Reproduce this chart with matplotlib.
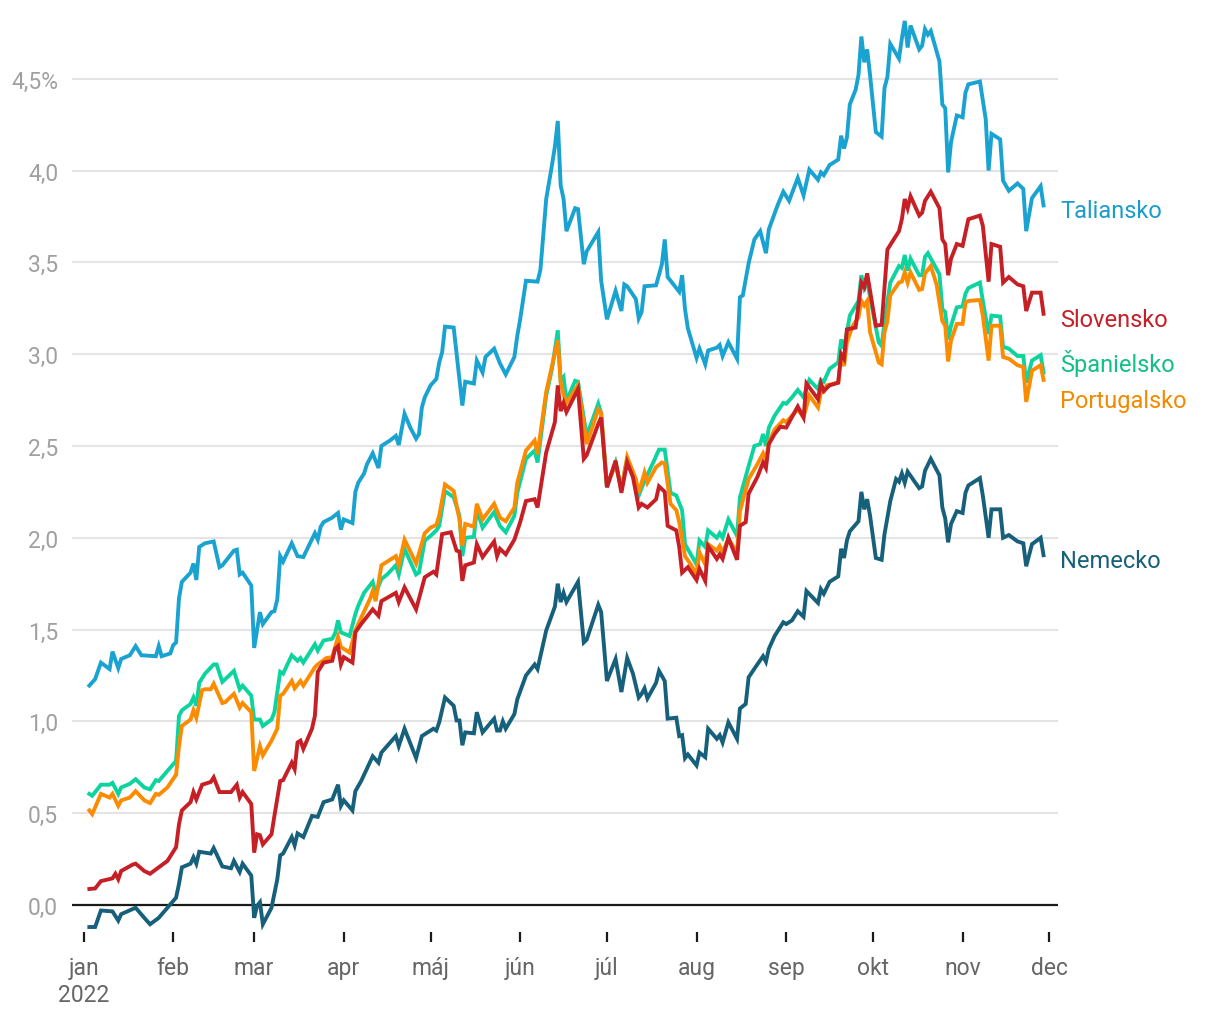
import matplotlib
matplotlib.use('Agg')
import matplotlib.pyplot as plt
import matplotlib.transforms as mtransforms
import pandas as pd

plt.rcParams['font.family'] = ['Roboto', 'DejaVu Sans']

# dni od 1. 1. 2022 a výnosy 10-ročných dlhopisov (%)
it_days = [2, 4, 6, 9, 10, 12, 13, 16, 18, 20, 25, 26, 27, 30, 31, 32, 33, 34, 37, 38,
           39, 40, 42, 45, 47, 48, 52, 53, 54, 55, 58, 59, 61, 62, 65, 66, 67, 68, 69, 72,
           74, 76, 80, 81, 82, 83, 86, 88, 89, 90, 93, 94, 95, 97, 98, 100, 102, 103, 106, 108,
           109, 111, 113, 115, 116, 117, 118, 120, 122, 123, 124, 125, 128, 131, 132, 135, 136, 138, 139, 142,
           144, 146, 149, 150, 151, 153, 157, 158, 160, 162, 163, 164, 165, 166, 167, 170, 171, 173, 174, 178,
           179, 181, 184, 186, 187, 188, 191, 192, 193, 194, 198, 200, 201, 202, 204, 206, 207, 208, 209, 212,
           213, 215, 216, 219, 220, 221, 223, 226, 227, 228, 230, 232, 234, 236, 237, 240, 242, 244, 247, 249,
           251, 254, 255, 256, 258, 261, 262, 263, 264, 265, 267, 268, 269, 270, 271, 272, 274, 276, 277, 278,
           279, 282, 283, 284, 285, 286, 289, 290, 291, 292, 293, 296, 297, 298, 299, 300, 302, 304, 305, 306,
           310, 312, 313, 314, 317, 318, 320, 323, 325, 326, 328, 331, 332]
it_vals = [1.195, 1.23, 1.32, 1.285, 1.38, 1.29, 1.34, 1.36, 1.41, 1.36,
           1.355, 1.41, 1.355, 1.37, 1.415, 1.43, 1.67, 1.76, 1.81, 1.86,
           1.77, 1.95, 1.97, 1.98, 1.84, 1.85, 1.93, 1.935, 1.80, 1.81,
           1.74, 1.40, 1.595, 1.53, 1.595, 1.60, 1.665, 1.90, 1.87, 1.97,
           1.90, 1.895, 2.025, 1.99, 2.06, 2.085, 2.11, 2.135, 2.045, 2.10,
           2.08, 2.25, 2.30, 2.35, 2.40, 2.46, 2.38, 2.50, 2.53, 2.555,
           2.505, 2.675, 2.60, 2.54, 2.565, 2.71, 2.765, 2.83, 2.865, 2.955,
           3.01, 3.15, 3.145, 2.72, 2.85, 2.84, 2.965, 2.90, 2.985, 3.03,
           2.95, 2.89, 2.985, 3.10, 3.19, 3.40, 3.395, 3.46, 3.845, 4.03,
           4.13, 4.27, 3.92, 3.845, 3.67, 3.795, 3.79, 3.49, 3.56, 3.665,
           3.40, 3.19, 3.345, 3.235, 3.38, 3.37, 3.30, 3.195, 3.23, 3.37,
           3.375, 3.49, 3.625, 3.42, 3.38, 3.34, 3.43, 3.245, 3.14, 2.98,
           3.03, 2.945, 3.02, 3.035, 3.05, 2.99, 3.065, 2.975, 3.31, 3.32,
           3.495, 3.625, 3.67, 3.55, 3.68, 3.81, 3.885, 3.835, 3.96, 3.865,
           4.005, 3.95, 3.99, 3.975, 4.03, 4.06, 4.19, 4.12, 4.18, 4.36,
           4.44, 4.52, 4.73, 4.59, 4.66, 4.52, 4.21, 4.185, 4.45, 4.51,
           4.69, 4.61, 4.72, 4.815, 4.67, 4.79, 4.66, 4.68, 4.77, 4.74,
           4.76, 4.595, 4.36, 4.34, 3.99, 4.155, 4.30, 4.29, 4.425, 4.47,
           4.485, 4.28, 4.00, 4.20, 4.17, 3.945, 3.89, 3.93, 3.90, 3.67,
           3.85, 3.915, 3.81]

es_days = [2, 3, 6, 9, 10, 12, 13, 16, 18, 21, 23, 25, 26, 29, 32, 33, 34, 37, 38, 39,
           40, 42, 45, 46, 48, 52, 54, 55, 58, 59, 61, 62, 65, 66, 68, 69, 72, 74, 75, 76,
           80, 81, 83, 86, 87, 88, 89, 92, 94, 95, 97, 100, 101, 103, 105, 108, 109, 111, 115, 116,
           118, 120, 122, 123, 125, 128, 130, 131, 132, 135, 136, 138, 142, 144, 146, 149, 150, 153, 156, 157,
           160, 162, 164, 165, 166, 167, 170, 171, 174, 178, 179, 181, 184, 186, 188, 190, 192, 194, 197, 199,
           201, 203, 205, 207, 208, 212, 213, 215, 216, 219, 220, 221, 223, 226, 227, 230, 232, 234, 235, 236,
           237, 239, 242, 243, 245, 247, 249, 251, 254, 255, 256, 258, 261, 262, 263, 265, 268, 269, 270, 271,
           275, 276, 277, 279, 282, 283, 284, 285, 286, 289, 290, 291, 292, 296, 297, 298, 299, 300, 302, 304,
           305, 306, 310, 311, 313, 314, 317, 318, 320, 323, 325, 326, 328, 331, 332]
es_vals = [0.605, 0.595, 0.655, 0.655, 0.665, 0.605, 0.64, 0.66, 0.685, 0.64,
           0.63, 0.68, 0.675, 0.73, 0.785, 1.03, 1.06, 1.095, 1.13, 1.085,
           1.21, 1.26, 1.31, 1.31, 1.215, 1.275, 1.175, 1.195, 1.14, 1.01,
           1.01, 0.975, 1.01, 1.05, 1.27, 1.26, 1.36, 1.33, 1.345, 1.32,
           1.42, 1.385, 1.44, 1.45, 1.48, 1.55, 1.485, 1.465, 1.585, 1.63,
           1.70, 1.76, 1.695, 1.775, 1.80, 1.85, 1.80, 1.94, 1.80, 1.81,
           1.985, 2.01, 2.04, 2.065, 2.255, 2.22, 2.12, 1.90, 2.00, 2.005,
           2.155, 2.055, 2.14, 2.065, 2.03, 2.12, 2.245, 2.43, 2.475, 2.41,
           2.775, 2.92, 3.13, 2.855, 2.875, 2.745, 2.855, 2.85, 2.555, 2.73,
           2.68, 2.275, 2.41, 2.265, 2.43, 2.34, 2.23, 2.31, 2.41, 2.48,
           2.48, 2.245, 2.23, 2.15, 1.965, 1.855, 1.985, 1.95, 2.04, 2.00,
           2.025, 2.00, 2.10, 2.01, 2.22, 2.39, 2.50, 2.51, 2.565, 2.50,
           2.60, 2.665, 2.735, 2.73, 2.765, 2.805, 2.765, 2.86, 2.81, 2.86,
           2.85, 2.92, 2.955, 3.08, 3.03, 3.21, 3.29, 3.43, 3.36, 3.395,
           3.065, 3.045, 3.175, 3.39, 3.48, 3.47, 3.54, 3.455, 3.52, 3.43,
           3.43, 3.53, 3.55, 3.435, 3.245, 3.23, 3.08, 3.155, 3.255, 3.26,
           3.33, 3.36, 3.39, 3.29, 3.11, 3.21, 3.205, 3.04, 3.03, 2.99,
           2.99, 2.845, 2.965, 2.995, 2.90]

pt_days = [2, 3, 6, 9, 10, 12, 13, 16, 18, 21, 23, 25, 26, 29, 32, 33, 34, 37, 38, 39,
           41, 42, 44, 45, 48, 49, 52, 54, 55, 58, 59, 61, 62, 65, 67, 68, 69, 72, 73, 75,
           76, 80, 81, 84, 86, 88, 89, 92, 94, 96, 99, 100, 101, 103, 108, 109, 111, 115, 118, 120,
           122, 123, 125, 128, 130, 131, 132, 135, 136, 138, 142, 144, 146, 149, 150, 153, 156, 157, 160, 164,
           165, 166, 167, 171, 174, 178, 179, 181, 184, 186, 188, 191, 192, 194, 195, 198, 200, 201, 203, 205,
           206, 208, 210, 212, 213, 215, 216, 219, 220, 221, 223, 226, 227, 230, 233, 235, 236, 237, 239, 242,
           243, 245, 247, 249, 251, 254, 255, 256, 257, 261, 262, 263, 264, 266, 268, 269, 270, 271, 272, 275,
           276, 277, 278, 279, 282, 283, 284, 285, 286, 289, 290, 291, 293, 295, 297, 298, 299, 300, 302, 304,
           305, 306, 310, 311, 313, 314, 317, 318, 320, 323, 325, 326, 328, 331, 332]
pt_vals = [0.515, 0.495, 0.605, 0.585, 0.605, 0.54, 0.57, 0.585, 0.62, 0.57,
           0.555, 0.605, 0.60, 0.64, 0.71, 0.865, 0.975, 1.01, 1.06, 1.02,
           1.17, 1.175, 1.175, 1.205, 1.10, 1.105, 1.15, 1.075, 1.10, 1.05,
           0.73, 0.865, 0.815, 0.895, 0.96, 1.14, 1.15, 1.22, 1.18, 1.22,
           1.195, 1.295, 1.31, 1.345, 1.35, 1.46, 1.405, 1.375, 1.495, 1.565,
           1.665, 1.71, 1.655, 1.85, 1.90, 1.85, 1.99, 1.86, 2.025, 2.055,
           2.07, 2.12, 2.29, 2.255, 2.10, 1.955, 2.075, 2.06, 2.185, 2.10,
           2.185, 2.11, 2.09, 2.165, 2.30, 2.475, 2.53, 2.455, 2.795, 3.075,
           2.845, 2.78, 2.735, 2.83, 2.51, 2.70, 2.68, 2.285, 2.40, 2.265,
           2.44, 2.32, 2.245, 2.355, 2.30, 2.385, 2.41, 2.405, 2.185, 2.15,
           2.085, 1.90, 1.855, 1.80, 1.92, 1.855, 1.965, 1.93, 1.955, 1.92,
           1.995, 1.92, 2.145, 2.32, 2.40, 2.46, 2.425, 2.52, 2.59, 2.64,
           2.63, 2.665, 2.70, 2.655, 2.775, 2.71, 2.79, 2.795, 2.83, 2.845,
           2.99, 2.935, 3.065, 3.155, 3.20, 3.29, 3.265, 3.29, 3.12, 2.955,
           2.945, 3.12, 3.18, 3.32, 3.39, 3.395, 3.445, 3.39, 3.445, 3.35,
           3.355, 3.44, 3.48, 3.38, 3.18, 3.155, 2.96, 3.075, 3.165, 3.165,
           3.28, 3.29, 3.295, 3.21, 2.965, 3.155, 3.155, 2.985, 2.975, 2.94,
           2.93, 2.74, 2.91, 2.94, 2.86]

sk_days = [2, 4, 6, 10, 11, 12, 13, 17, 18, 21, 23, 26, 29, 32, 33, 34, 37, 38, 39, 41,
           43, 44, 45, 47, 51, 53, 54, 55, 58, 59, 60, 61, 62, 65, 66, 68, 69, 72, 73, 74,
           75, 76, 79, 80, 81, 83, 86, 87, 88, 89, 90, 93, 94, 96, 100, 102, 103, 108, 109, 111,
           115, 118, 121, 122, 124, 127, 129, 130, 131, 132, 135, 136, 138, 142, 143, 144, 146, 149, 151, 153,
           156, 157, 160, 163, 164, 165, 166, 167, 171, 173, 174, 178, 179, 181, 184, 186, 188, 190, 192, 193,
           195, 198, 199, 201, 202, 205, 206, 207, 209, 212, 213, 215, 216, 219, 220, 221, 223, 226, 227, 229,
           230, 233, 235, 236, 237, 239, 241, 243, 247, 249, 250, 254, 255, 256, 258, 261, 262, 263, 264, 267,
           269, 270, 271, 274, 276, 278, 282, 283, 284, 285, 286, 289, 290, 291, 293, 296, 297, 298, 299, 300,
           302, 304, 306, 310, 311, 313, 314, 317, 318, 320, 323, 325, 326, 328, 331, 332]
sk_vals = [0.087, 0.09, 0.13, 0.145, 0.17, 0.14, 0.185, 0.22, 0.225, 0.185,
           0.17, 0.205, 0.24, 0.315, 0.44, 0.515, 0.56, 0.615, 0.575, 0.655,
           0.665, 0.67, 0.695, 0.615, 0.615, 0.655, 0.585, 0.615, 0.55, 0.285,
           0.385, 0.38, 0.33, 0.385, 0.485, 0.675, 0.68, 0.775, 0.74, 0.885,
           0.895, 0.85, 0.96, 1.03, 1.27, 1.32, 1.33, 1.395, 1.41, 1.31,
           1.35, 1.32, 1.485, 1.53, 1.61, 1.575, 1.655, 1.70, 1.65, 1.73,
           1.61, 1.785, 1.815, 1.80, 2.02, 2.03, 1.93, 1.925, 1.765, 1.85,
           1.865, 1.965, 1.895, 1.98, 1.90, 1.94, 1.91, 1.99, 2.085, 2.20,
           2.21, 2.165, 2.465, 2.63, 2.83, 2.69, 2.735, 2.685, 2.81, 2.43,
           2.45, 2.62, 2.655, 2.275, 2.42, 2.245, 2.41, 2.33, 2.165, 2.185,
           2.165, 2.21, 2.28, 2.25, 2.065, 2.04, 1.95, 1.81, 1.84, 1.77,
           1.83, 1.765, 1.955, 1.885, 1.91, 1.885, 2.00, 1.88, 2.065, 2.085,
           2.24, 2.33, 2.41, 2.38, 2.51, 2.565, 2.605, 2.60, 2.715, 2.655,
           2.84, 2.755, 2.84, 2.80, 2.83, 2.845, 3.00, 2.975, 3.135, 3.145,
           3.39, 3.365, 3.44, 3.155, 3.16, 3.57, 3.67, 3.735, 3.845, 3.795,
           3.86, 3.755, 3.77, 3.835, 3.885, 3.795, 3.625, 3.60, 3.43, 3.52,
           3.60, 3.59, 3.735, 3.755, 3.70, 3.395, 3.60, 3.585, 3.39, 3.42,
           3.38, 3.37, 3.235, 3.335, 3.335, 3.22]

de_days = [2, 4, 6, 10, 12, 13, 18, 21, 23, 26, 29, 32, 33, 34, 37, 38, 39, 40, 42, 44,
           45, 48, 51, 52, 54, 55, 58, 59, 60, 61, 62, 65, 67, 68, 69, 72, 73, 74, 76, 79,
           81, 83, 86, 88, 89, 90, 93, 94, 96, 100, 102, 103, 108, 109, 111, 115, 117, 121, 122, 123,
           125, 128, 129, 130, 131, 132, 135, 136, 138, 142, 143, 144, 145, 146, 149, 150, 153, 156, 157, 160,
           163, 164, 165, 166, 167, 171, 173, 174, 178, 179, 181, 184, 186, 188, 190, 192, 193, 194, 195, 198,
           199, 201, 202, 205, 206, 207, 208, 209, 212, 213, 215, 216, 219, 220, 221, 223, 226, 227, 229, 230,
           233, 235, 236, 237, 239, 242, 243, 245, 247, 249, 250, 254, 255, 256, 258, 261, 262, 263, 264, 265,
           268, 269, 270, 271, 272, 274, 276, 277, 279, 281, 282, 283, 284, 285, 289, 290, 291, 293, 296, 297,
           298, 299, 300, 302, 304, 305, 306, 310, 311, 313, 314, 317, 318, 320, 323, 325, 326, 328, 331, 332]
de_vals = [-0.12, -0.12, -0.03, -0.035, -0.085, -0.05, -0.015, -0.07, -0.105, -0.07,
           -0.015, 0.04, 0.115, 0.205, 0.225, 0.26, 0.225, 0.29, 0.285, 0.28,
           0.31, 0.21, 0.20, 0.24, 0.18, 0.225, 0.16, -0.07, -0.005, 0.015,
           -0.105, -0.015, 0.14, 0.27, 0.28, 0.37, 0.325, 0.39, 0.37, 0.485,
           0.48, 0.56, 0.575, 0.655, 0.54, 0.57, 0.515, 0.62, 0.675, 0.81,
           0.775, 0.83, 0.92, 0.865, 0.96, 0.80, 0.92, 0.96, 0.95, 0.995,
           1.13, 1.085, 1.005, 1.005, 0.87, 0.94, 0.935, 1.05, 0.94, 1.015,
           0.95, 0.95, 1.00, 0.96, 1.04, 1.12, 1.25, 1.31, 1.285, 1.495,
           1.625, 1.75, 1.65, 1.70, 1.65, 1.76, 1.43, 1.445, 1.635, 1.595,
           1.22, 1.34, 1.16, 1.345, 1.26, 1.13, 1.15, 1.18, 1.125, 1.21,
           1.275, 1.22, 1.015, 1.02, 0.92, 0.925, 0.80, 0.82, 0.76, 0.83,
           0.805, 0.96, 0.905, 0.925, 0.885, 0.995, 0.905, 1.07, 1.095, 1.24,
           1.31, 1.355, 1.325, 1.395, 1.465, 1.54, 1.53, 1.55, 1.60, 1.57,
           1.71, 1.645, 1.72, 1.695, 1.76, 1.79, 1.94, 1.89, 1.985, 2.035,
           2.09, 2.25, 2.155, 2.21, 2.12, 1.89, 1.88, 2.02, 2.20, 2.32,
           2.305, 2.35, 2.30, 2.36, 2.27, 2.28, 2.365, 2.43, 2.34, 2.165,
           2.105, 1.975, 2.075, 2.145, 2.135, 2.245, 2.285, 2.325, 2.23, 2.00,
           2.155, 2.155, 2.00, 2.015, 1.98, 1.97, 1.845, 1.965, 2.00, 1.905]

names = ['Taliansko', 'Nemecko', 'Španielsko', 'Portugalsko', 'Slovensko']
month_labels = ['jan\n2022', 'feb', 'mar', 'apr', 'máj', 'jún', 'júl', 'aug', 'sep', 'okt', 'nov', 'dec']
y_ticks = [0.0, 0.5, 1.0, 1.5, 2.0, 2.5, 3.0, 3.5, 4.0, 4.5]

start = pd.Timestamp('2022-01-01')


def to_dates(days):
    return start + pd.to_timedelta(days, unit='D')


colors = {
    'Taliansko': '#1aa2d1',
    'Nemecko': '#17607b',
    'Španielsko': '#0dd49f',
    'Portugalsko': '#fb8b00',
    'Slovensko': '#c61f26',
}
label_colors = {
    'Taliansko': '#1b9ccd',
    'Nemecko': '#17607b',
    'Španielsko': '#12bf85',
    'Portugalsko': '#f28a00',
    'Slovensko': '#c61f26',
}
data = {
    'Taliansko': (it_days, it_vals),
    'Nemecko': (de_days, de_vals),
    'Španielsko': (es_days, es_vals),
    'Portugalsko': (pt_days, pt_vals),
    'Slovensko': (sk_days, sk_vals),
}
label_y = {'Taliansko': 3.78, 'Slovensko': 3.19, 'Španielsko': 2.955,
           'Portugalsko': 2.745, 'Nemecko': 1.875}

fig = plt.figure(figsize=(12.2, 10.2), dpi=100)
ax = fig.add_axes([72 / 1220, 1 - 942.7 / 1020, 986 / 1220, (942.7 - 15.5) / 1020])

for name in names:
    d, v = data[name]
    ax.plot(to_dates(d), v, color=colors[name], lw=2.8, solid_joinstyle='miter', zorder=3)

ax.set_ylim(-0.2, 4.85)
ax.set_xlim(pd.Timestamp('2021-12-28'), pd.Timestamp('2022-12-04'))

ax.set_yticks(y_ticks)
ax.set_yticklabels([f'{t:.1f}'.replace('.', ',') + ('%' if t == 4.5 else '') for t in y_ticks])
ax.yaxis.grid(True, color='#e4e4e4', lw=1.5, zorder=0)
ax.axhline(0, color='#1a1a1a', lw=1.6, zorder=2)

month_ticks = pd.date_range('2022-01-01', '2022-12-01', freq='MS')
ax.set_xticks(month_ticks)
ax.set_xticklabels(month_labels, linespacing=1.25)

for s in ax.spines.values():
    s.set_visible(False)

ax.tick_params(axis='y', length=0, pad=10, labelsize=16.5, labelcolor='#a0a0a0')
ax.tick_params(axis='x', direction='in', length=7, width=1.6, color='#1a1a1a',
               pad=10, labelsize=16.5, labelcolor='#666666')

trans = mtransforms.blended_transform_factory(ax.transAxes, ax.transData)
for name in names:
    ax.text(1.002, label_y[name], name, transform=trans, color=label_colors[name],
            fontsize=17, ha='left', va='center', clip_on=False)

fig.savefig('out.png', dpi=100)
